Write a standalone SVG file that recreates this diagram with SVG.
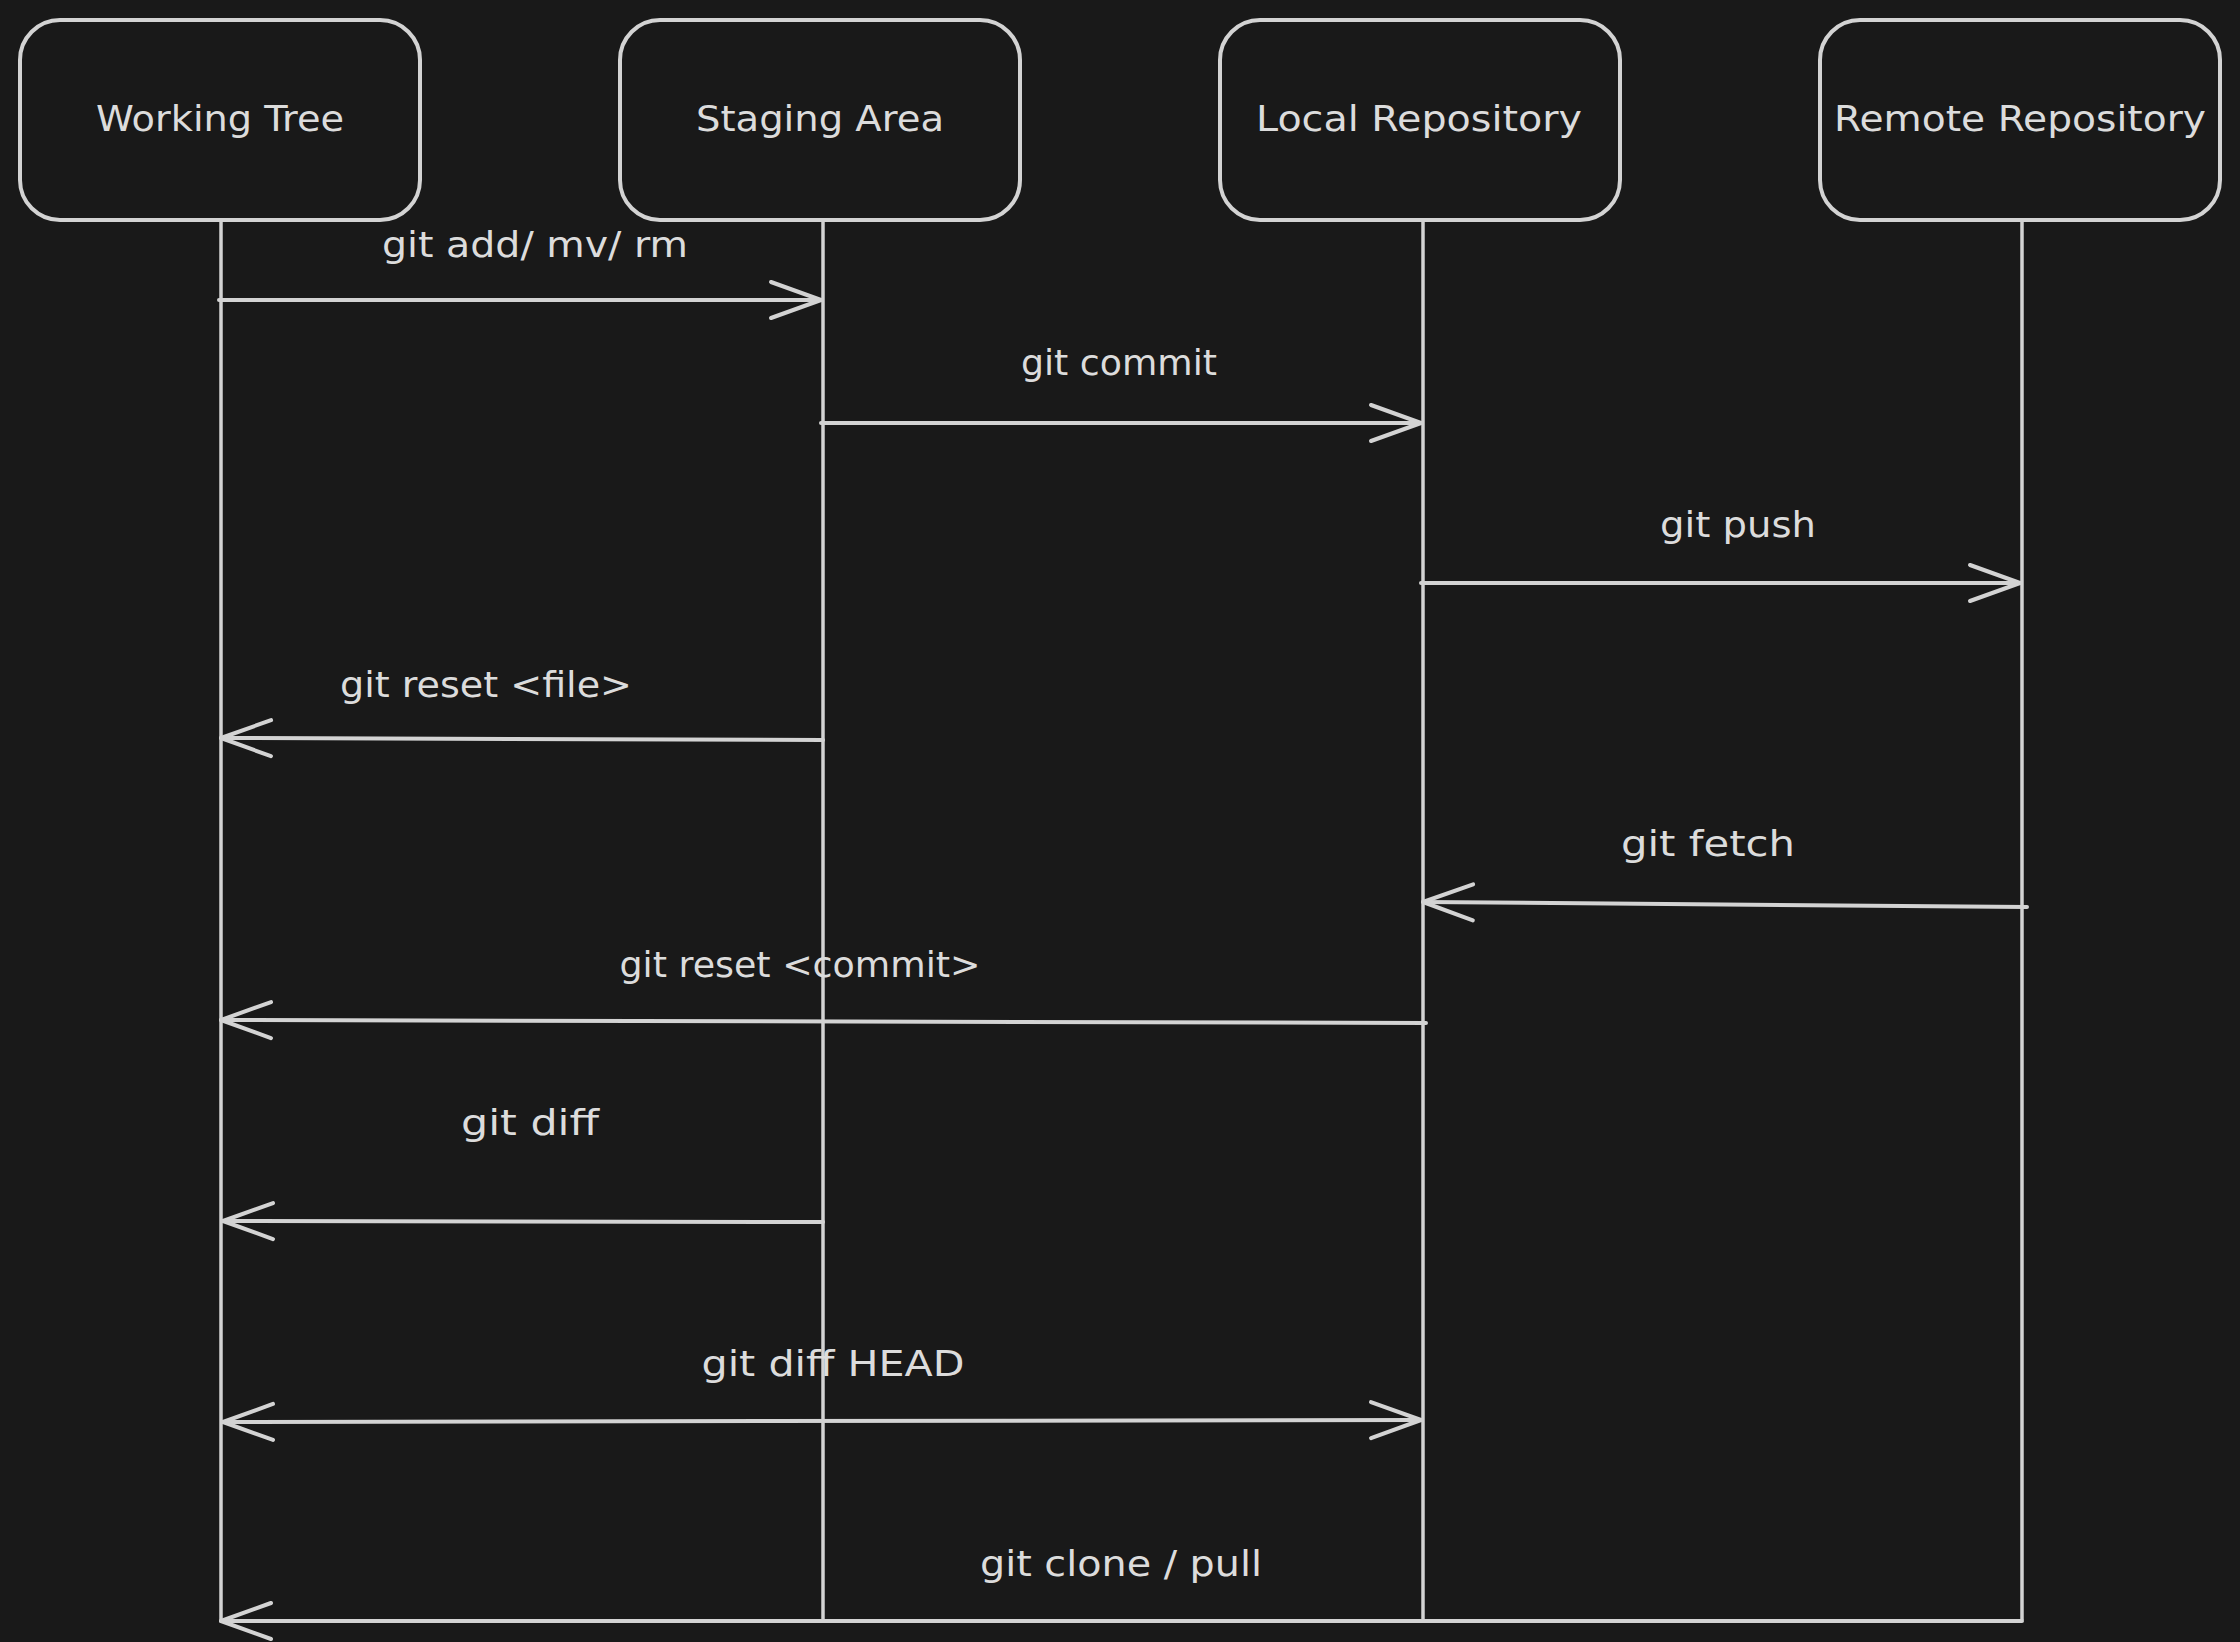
<svg xmlns="http://www.w3.org/2000/svg" width="2240" height="1642" viewBox="0 0 2240 1642">
<style>
.box{fill:#191919;stroke:#d3d3d3;stroke-width:4}
.life{stroke:#d3d3d3;stroke-width:3.5;fill:none}
.conn{stroke:#d3d3d3;stroke-width:4;fill:none;stroke-linecap:round}
.lbl{font-family:"DejaVu Sans","Liberation Sans",sans-serif;font-size:35px;fill:#dcdcdc;text-anchor:middle}
</style>
<defs>
<marker id="ah" markerUnits="userSpaceOnUse" viewBox="0 0 64 48" markerWidth="64" markerHeight="48" refX="58" refY="24" orient="auto-start-reverse" overflow="visible">
<path d="M8,6 L58,24 L8,42" fill="none" stroke="#d3d3d3" stroke-width="4" stroke-linecap="round" stroke-linejoin="round"/>
</marker>
</defs>
<rect width="2240" height="1642" fill="#191919"/>
<g id="lifelines">
<line class="life" x1="221" y1="220" x2="221" y2="1622"/>
<line class="life" x1="823" y1="220" x2="823" y2="1620"/>
<line class="life" x1="1423" y1="220" x2="1423" y2="1620"/>
<line class="life" x1="2022" y1="220" x2="2022" y2="1620"/>
</g>
<g id="node-working-tree">
<rect class="box" x="20" y="20" width="400" height="200" rx="40"/>
<text class="lbl" x="220" y="131" textLength="248" lengthAdjust="spacingAndGlyphs">Working Tree</text>
</g>
<g id="node-staging-area">
<rect class="box" x="620" y="20" width="400" height="200" rx="40"/>
<text class="lbl" x="820" y="131" textLength="248" lengthAdjust="spacingAndGlyphs">Staging Area</text>
</g>
<g id="node-local-repository">
<rect class="box" x="1220" y="20" width="400" height="200" rx="40"/>
<text class="lbl" x="1419" y="131" textLength="326" lengthAdjust="spacingAndGlyphs">Local Repository</text>
</g>
<g id="node-remote-repository">
<rect class="box" x="1820" y="20" width="400" height="200" rx="40"/>
<text class="lbl" x="2020" y="131" textLength="372" lengthAdjust="spacingAndGlyphs">Remote Repository</text>
</g>
<g id="connectors">
<line class="conn" x1="219" y1="300" x2="821" y2="300" marker-end="url(#ah)"/>
<line class="conn" x1="821" y1="423" x2="1421" y2="423" marker-end="url(#ah)"/>
<line class="conn" x1="1421" y1="583" x2="2020" y2="583" marker-end="url(#ah)"/>
<line class="conn" x1="823" y1="740" x2="221" y2="738" marker-end="url(#ah)"/>
<line class="conn" x1="2027" y1="907" x2="1423" y2="902" marker-end="url(#ah)"/>
<line class="conn" x1="1426" y1="1023" x2="221" y2="1020" marker-end="url(#ah)"/>
<line class="conn" x1="823" y1="1222" x2="223" y2="1221" marker-end="url(#ah)"/>
<line class="conn" x1="223" y1="1422" x2="1421" y2="1420" marker-start="url(#ah)" marker-end="url(#ah)"/>
<line class="conn" x1="2022" y1="1621" x2="221" y2="1621" marker-end="url(#ah)"/>
</g>
<g id="labels">
<text class="lbl" x="535" y="257" textLength="306" lengthAdjust="spacingAndGlyphs">git add/ mv/ rm</text>
<text class="lbl" x="1119" y="375" textLength="196" lengthAdjust="spacingAndGlyphs">git commit</text>
<text class="lbl" x="1738" y="537" textLength="156" lengthAdjust="spacingAndGlyphs">git push</text>
<text class="lbl" x="486" y="697" textLength="292" lengthAdjust="spacingAndGlyphs">git reset &lt;file&gt;</text>
<text class="lbl" x="1708" y="856" textLength="174" lengthAdjust="spacingAndGlyphs">git fetch</text>
<text class="lbl" x="800" y="977" textLength="361" lengthAdjust="spacingAndGlyphs">git reset &lt;commit&gt;</text>
<text class="lbl" x="530" y="1135" textLength="138" lengthAdjust="spacingAndGlyphs">git diff</text>
<text class="lbl" x="833" y="1376" textLength="263" lengthAdjust="spacingAndGlyphs">git diff HEAD</text>
<text class="lbl" x="1121" y="1576" textLength="282" lengthAdjust="spacingAndGlyphs">git clone / pull</text>
</g>
</svg>
